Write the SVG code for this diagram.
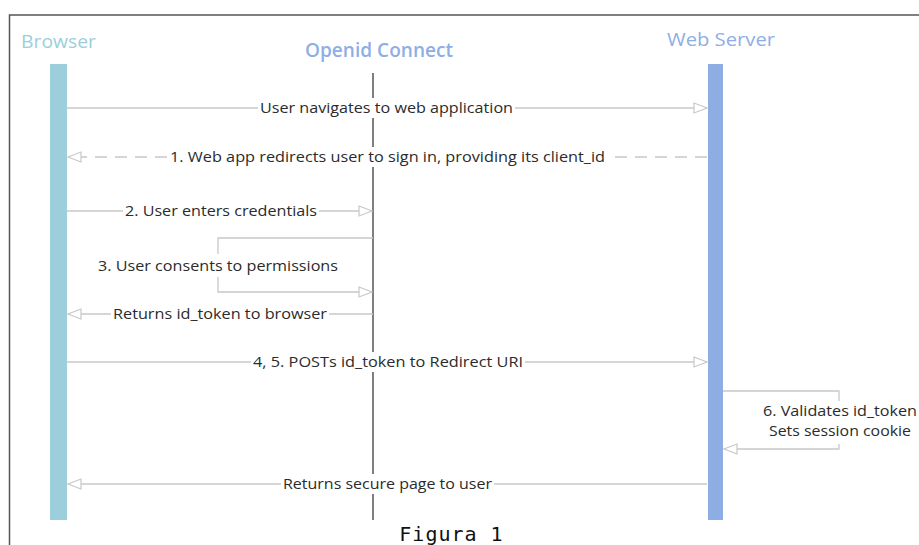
<svg xmlns="http://www.w3.org/2000/svg" width="919" height="545" viewBox="0 0 919 545">
<defs>
<style>
.msg{stroke:#c8c8c8;stroke-width:1.3;fill:none}
.dash{stroke-dasharray:12 8}
.lbl{font-family:"Open Sans","Noto Sans",sans-serif;font-size:15px;fill:#2b2b2b;text-anchor:middle}
.gap{fill:#fff}
.hdr{font-family:"Open Sans","Noto Sans",sans-serif;font-size:19px;text-anchor:middle}
</style>
<marker id="ah" markerWidth="16" markerHeight="12" refX="14" refY="6" orient="auto" markerUnits="userSpaceOnUse">
<path d="M1,1 L14,6 L1,11 Z" fill="#fff" stroke="#c8c8c8" stroke-width="1.2"/>
</marker>
</defs>
<rect width="919" height="545" fill="#fff"/>
<path d="M9.5,545 V15 H919" fill="none" stroke="#555" stroke-width="1.5"/>

<g id="browser">
<text class="hdr" x="58.5" y="48" fill="#9ccfdb" textLength="75" lengthAdjust="spacingAndGlyphs">Browser</text>
<rect x="50" y="64" width="17" height="456" fill="#9ccfdb"/>
</g>
<g id="openid">
<text class="hdr" x="379" y="57" fill="#8eaee6" font-weight="600" font-size="18" textLength="148" lengthAdjust="spacingAndGlyphs">Openid Connect</text>
<line x1="373" y1="73" x2="373" y2="520" stroke="#555" stroke-width="1.5"/>
</g>
<g id="webserver">
<text class="hdr" x="721" y="46" fill="#8eaee6" textLength="108" lengthAdjust="spacingAndGlyphs">Web Server</text>
<rect x="708" y="64" width="15" height="456" fill="#8eaee3"/>
</g>

<g id="connectors">
<line class="msg" x1="67" y1="108" x2="707" y2="108" marker-end="url(#ah)"/>
<line class="msg dash" x1="707" y1="157" x2="68" y2="157" marker-end="url(#ah)"/>
<line class="msg" x1="67" y1="211" x2="372" y2="211" marker-end="url(#ah)"/>
<path class="msg" d="M373,238 H218 V292 H372" marker-end="url(#ah)"/>
<line class="msg" x1="373" y1="314" x2="68" y2="314" marker-end="url(#ah)"/>
<line class="msg" x1="67" y1="362" x2="707" y2="362" marker-end="url(#ah)"/>
<path class="msg" d="M723,391 H839 V449 H724" marker-end="url(#ah)"/>
<line class="msg" x1="707" y1="484" x2="68" y2="484" marker-end="url(#ah)"/>
</g>

<g id="labels">
<rect class="gap" x="258" y="98" width="257" height="20"/>
<text class="lbl" x="386.5" y="113" textLength="253" lengthAdjust="spacingAndGlyphs">User navigates to web application</text>
<rect class="gap" x="168" y="147" width="439" height="20"/>
<text class="lbl" x="387.5" y="162" textLength="435" lengthAdjust="spacingAndGlyphs">1. Web app redirects user to sign in, providing its client_id</text>
<rect class="gap" x="123" y="201" width="196" height="20"/>
<text class="lbl" x="221" y="216" textLength="192" lengthAdjust="spacingAndGlyphs">2. User enters credentials</text>
<rect class="gap" x="96" y="254" width="244" height="23"/>
<text class="lbl" x="218" y="271" textLength="240" lengthAdjust="spacingAndGlyphs">3. User consents to permissions</text>
<rect class="gap" x="111" y="304" width="218" height="20"/>
<text class="lbl" x="220" y="319" textLength="214" lengthAdjust="spacingAndGlyphs">Returns id_token to browser</text>
<rect class="gap" x="251" y="352" width="274" height="20"/>
<text class="lbl" x="388" y="367" textLength="270" lengthAdjust="spacingAndGlyphs">4, 5. POSTs id_token to Redirect URI</text>
<rect class="gap" x="759" y="401" width="160" height="43"/>
<text class="lbl" x="840" y="416" textLength="154" lengthAdjust="spacingAndGlyphs">6. Validates id_token</text>
<text class="lbl" x="840" y="436" textLength="142" lengthAdjust="spacingAndGlyphs">Sets session cookie</text>
<rect class="gap" x="281" y="474" width="213" height="20"/>
<text class="lbl" x="387.5" y="489" textLength="209" lengthAdjust="spacingAndGlyphs">Returns secure page to user</text>
</g>

<text x="451.5" y="541" font-family="'DejaVu Sans Mono',monospace" font-size="20" fill="#111" text-anchor="middle" letter-spacing="1">Figura 1</text>
</svg>
